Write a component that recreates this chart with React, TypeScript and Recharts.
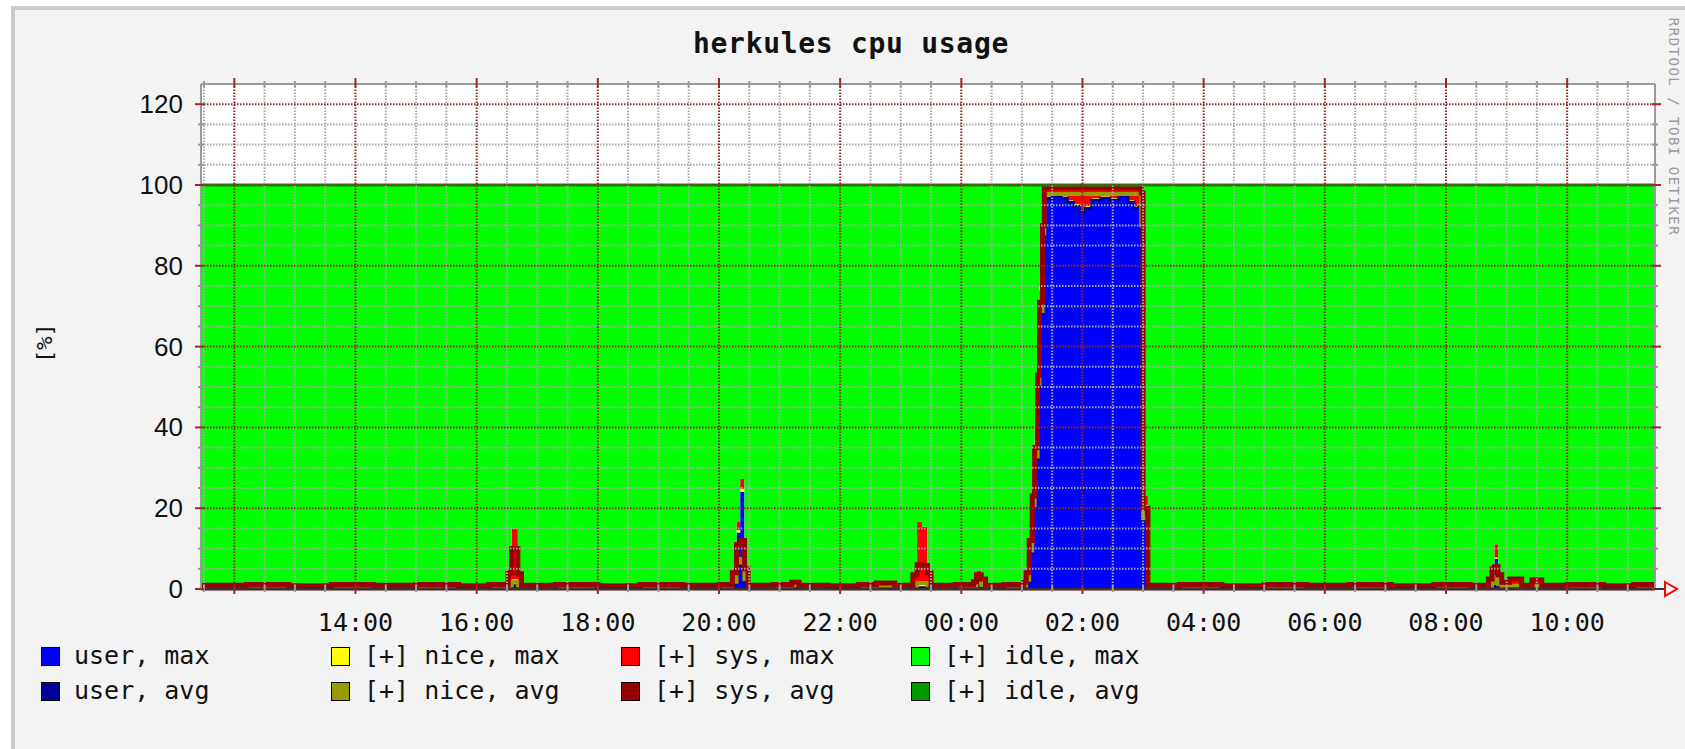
import React from "react";
import { ComposedChart, Area, XAxis, YAxis, CartesianGrid, ReferenceLine } from "recharts";

// hours since midnight of the first day (24h window, 11:27 -> 11:27)
const times = [
  11.45, 12.2, 12.9, 13.6, 14.3, 15.0, 15.7, 16.2, 16.52, 16.58, 16.68, 16.74,
  17.3, 18.0, 18.7, 19.4, 20.0, 20.22, 20.29, 20.35, 20.42, 20.48, 20.9, 21.2,
  21.32, 21.8, 22.3, 22.6, 22.9, 23.2, 23.27, 23.35, 23.44, 23.5, 23.9, 24.2,
  24.25, 24.33, 24.4, 24.7, 25.0, 25.03, 25.07, 25.12, 25.17, 25.21, 25.26, 25.29,
  25.34, 25.37, 25.5, 25.65, 25.75, 25.85, 25.95, 26.05, 26.15, 26.3, 26.45, 26.6,
  26.75, 26.85, 26.92, 26.97, 27.0, 27.08, 27.6, 28.3, 29.0, 29.7, 30.4, 31.1,
  31.8, 32.4, 32.7, 32.76, 32.8, 32.86, 32.92, 33.05, 33.25, 33.42, 33.58, 34.0,
  34.6, 35.1, 35.45,
];

const userMax = [
  0.3, 0.3, 0.2, 0.3, 0.3, 0.3, 0.2, 0.3, 0.8, 1.0, 0.6, 0.3,
  0.3, 0.2, 0.3, 0.3, 0.3, 2.0, 14.0, 24.0, 2.5, 0.3, 0.3, 0.4,
  0.3, 0.2, 0.3, 0.3, 0.3, 0.3, 0.5, 0.5, 0.4, 0.3, 0.3, 0.6,
  3.0, 1.2, 0.3, 0.3, 0.3, 1.0, 3.0, 12.0, 24.0, 36.0, 56.0, 74.0,
  91.0, 97.0, 97.5, 97.0, 96.0, 95.0, 93.5, 94.5, 96.5, 97.0, 96.5, 97.5,
  96.0, 94.5, 95.0, 92.0, 20.0, 0.3, 0.3, 0.2, 0.3, 0.3, 0.3, 0.2,
  0.3, 0.3, 0.5, 1.5, 7.5, 1.0, 0.4, 0.3, 0.3, 0.3, 0.3, 0.3,
  0.2, 0.3, 0.3,
];
const niceMax = [
  0, 0, 0, 0, 0, 0, 0, 0, 0.5, 1.5, 0.4, 0,
  0, 0, 0, 0, 0, 0.5, 0.6, 0.8, 0.5, 0, 0, 0.8,
  0, 0, 0, 0.6, 0, 0.5, 1.5, 1.5, 0.8, 0, 0, 0,
  0.2, 0.2, 0, 0, 0, 0.3, 0.5, 0.8, 1.0, 1.0, 1.0, 1.0,
  1.0, 0.5, 0.5, 0.5, 0.3, 0.3, 0.3, 0.3, 0.3, 0.3, 0.3, 0.5,
  0.3, 0.3, 0.3, 0.5, 0.8, 0, 0, 0, 0, 0, 0, 0,
  0, 0, 0.3, 0.5, 0.3, 0.5, 0.3, 0.8, 0, 0.6, 0, 0,
  0, 0, 0,
];
const sysMax = [
  1.1, 1.3, 1.0, 1.3, 1.1, 1.3, 1.0, 1.3, 3.4, 12.5, 3.5, 1.1,
  1.3, 1.0, 1.3, 1.1, 1.3, 2.5, 2.0, 2.5, 2.0, 1.1, 1.3, 1.0,
  1.1, 1.0, 1.3, 1.1, 1.1, 3.2, 14.6, 13.4, 3.3, 1.1, 1.3, 1.4,
  1.3, 1.6, 1.1, 1.3, 1.1, 1.2, 2.0, 3.2, 3.0, 3.0, 3.0, 3.0,
  3.0, 2.5, 2.0, 2.5, 3.7, 4.7, 6.2, 5.2, 3.2, 2.7, 3.2, 2.0,
  3.7, 5.2, 4.7, 7.5, 2.2, 1.1, 1.3, 1.0, 1.3, 1.1, 1.3, 1.0,
  1.3, 1.1, 2.2, 3.5, 3.3, 2.5, 1.3, 1.9, 1.1, 1.8, 1.1, 1.3,
  1.0, 1.3, 1.1,
];
const idleMax = [
  98.6, 98.4, 98.8, 98.4, 98.6, 98.4, 98.8, 98.4, 95.3, 85.0, 95.5, 98.6,
  98.4, 98.8, 98.4, 98.6, 98.4, 95.0, 83.4, 72.7, 95.0, 98.6, 98.4, 97.8,
  98.6, 98.8, 98.4, 98.0, 98.6, 96.0, 83.4, 84.6, 95.5, 98.6, 98.4, 98.0,
  95.5, 97.0, 98.6, 98.4, 98.6, 97.5, 94.5, 84.0, 72.0, 60.0, 40.0, 22.0,
  5.0, 0, 0, 0, 0, 0, 0, 0, 0, 0, 0, 0,
  0, 0, 0, 0, 77.0, 98.6, 98.4, 98.8, 98.4, 98.6, 98.4, 98.8,
  98.4, 98.6, 97.0, 94.5, 88.9, 96.0, 98.0, 97.0, 98.6, 97.3, 98.6, 98.4,
  98.8, 98.4, 98.6,
];

const userAvg = [
  0.2, 0.2, 0.2, 0.2, 0.2, 0.2, 0.2, 0.2, 0.5, 0.8, 0.5, 0.2,
  0.2, 0.2, 0.2, 0.2, 0.2, 1.5, 6.0, 7.0, 2.0, 0.2, 0.2, 0.3,
  0.2, 0.2, 0.2, 0.2, 0.2, 0.2, 0.3, 0.3, 0.3, 0.2, 0.2, 0.4,
  1.5, 0.8, 0.2, 0.2, 0.2, 0.5, 2.0, 9.0, 20.0, 32.0, 50.0, 68.0,
  87.0, 96.7, 97.2, 96.7, 95.7, 94.7, 93.2, 94.2, 96.2, 96.7, 96.2, 97.2,
  95.7, 94.2, 94.7, 88.0, 17.0, 0.2, 0.2, 0.2, 0.2, 0.2, 0.2, 0.2,
  0.2, 0.2, 0.4, 1.0, 2.5, 0.8, 0.3, 0.2, 0.2, 0.2, 0.2, 0.2,
  0.2, 0.2, 0.2,
];
const niceAvg = [
  0, 0, 0, 0, 0, 0, 0, 0, 0.3, 1.0, 0.3, 0,
  0, 0, 0, 0, 0, 0.3, 0.5, 0.5, 0.4, 0, 0, 0.5,
  0, 0, 0, 0.4, 0, 0.4, 1.2, 1.2, 0.6, 0, 0, 0,
  0.2, 0.2, 0, 0, 0, 0.2, 0.3, 0.5, 0.8, 0.8, 0.8, 0.8,
  1.0, 1.1, 0.6, 1.1, 2.1, 3.1, 4.6, 3.6, 1.6, 1.1, 1.6, 0.6,
  2.1, 3.6, 3.1, 2.0, 0.5, 0, 0, 0, 0, 0, 0, 0,
  0, 0, 0.2, 0.5, 0.5, 0.4, 0.2, 0.6, 0, 0.5, 0, 0,
  0, 0, 0,
];
const sysAvg = [
  0.7, 0.9, 0.6, 0.9, 0.7, 0.9, 0.6, 0.9, 3.2, 8.2, 3.0, 0.7,
  0.9, 0.6, 0.9, 0.7, 0.9, 2.2, 4.5, 4.5, 2.6, 0.7, 0.9, 0.9,
  0.7, 0.6, 0.9, 0.9, 0.7, 2.9, 4.5, 4.3, 3.1, 0.7, 0.9, 1.4,
  1.8, 1.5, 0.7, 0.9, 0.7, 1.0, 1.7, 2.5, 2.2, 2.2, 2.2, 2.2,
  2.0, 1.5, 1.5, 1.5, 1.5, 1.5, 1.5, 1.5, 1.5, 1.5, 1.5, 1.5,
  1.5, 1.5, 1.5, 8.0, 2.5, 0.7, 0.9, 0.6, 0.9, 0.7, 0.9, 0.6,
  0.9, 0.7, 1.9, 3.5, 2.5, 2.3, 1.2, 1.7, 0.7, 1.5, 0.7, 0.9,
  0.6, 0.9, 0.7,
];
const idleAvg = [
  99.1, 98.9, 99.2, 98.9, 99.1, 98.9, 99.2, 98.9, 96.0, 90.0, 96.2, 99.1,
  98.9, 99.2, 98.9, 99.1, 98.9, 96.0, 89.0, 88.0, 95.0, 99.1, 98.9, 98.3,
  99.1, 99.2, 98.9, 98.5, 99.1, 96.5, 94.0, 94.2, 96.0, 99.1, 98.9, 98.2,
  96.5, 97.5, 99.1, 98.9, 99.1, 98.3, 96.0, 88.0, 77.0, 65.0, 47.0, 29.0,
  10.0, 0.7, 0.7, 0.7, 0.7, 0.7, 0.7, 0.7, 0.7, 0.7, 0.7, 0.7,
  0.7, 0.7, 0.7, 2.0, 80.0, 99.1, 98.9, 99.2, 98.9, 99.1, 98.9, 99.2,
  98.9, 99.1, 97.5, 95.0, 94.5, 96.5, 98.3, 97.5, 99.1, 97.8, 99.1, 98.9,
  99.2, 98.9, 99.1,
];

const xMajorTicks = [12, 14, 16, 18, 20, 22, 24, 26, 28, 30, 32, 34];
const xLabels = ["", "14:00", "16:00", "18:00", "20:00", "22:00", "00:00", "02:00", "04:00", "06:00", "08:00", "10:00"];
const yMajorTicks = [0, 20, 40, 60, 80, 100, 120];
const yLabels = ["0", "20", "40", "60", "80", "100", "120"];

const legendNames = [
  "user, max", "[+] nice, max", "[+] sys, max", "[+] idle, max",
  "user, avg", "[+] nice, avg", "[+] sys, avg", "[+] idle, avg",
];
const legendColors = [
  "#0000ff", "#ffff00", "#ff0000", "#00ff00",
  "#000099", "#999900", "#990000", "#009900",
];

// 30 minute and 5 % minor grid steps
const xMinorTicks = Array.from({ length: 48 }, (_, i) => 11.5 + i * 0.5);
const yMinorTicks = Array.from({ length: 25 }, (_, i) => i * 5);
const xGridMinor = xMinorTicks.filter((v) => !xMajorTicks.includes(v));
const yGridMinor = yMinorTicks.filter((v) => v > 0 && v % 20 !== 0);
const yGridMajor = yMajorTicks.filter((v) => v > 0);

const data = times.map((t, i) => ({
  t,
  userMax: userMax[i],
  niceMax: niceMax[i],
  sysMax: sysMax[i],
  idleMax: idleMax[i],
  userAvg: userAvg[i],
  niceAvg: niceAvg[i],
  sysAvg: sysAvg[i],
  idleAvg: idleAvg[i],
}));

const GRID_GRAY = "#a8a8a8";
const GRID_RED = "#8e2a2a";
const TICK_GRAY = "#9a9a9a";
const TICK_RED = "#a02828";
const MONO = "'DejaVu Sans Mono', monospace";

const bottomTick = (props: any) => {
  const { x, y, payload } = props;
  const idx = xMajorTicks.indexOf(payload.value);
  const major = idx >= 0;
  return (
    <g>
      <line x1={x} x2={x} y1={y - 3} y2={y + (major ? 5 : 3)} stroke={major ? TICK_RED : TICK_GRAY} strokeWidth={2} />
      {major && xLabels[idx] ? (
        <text x={x} y={y + 33} textAnchor="middle" dominantBaseline="central" fontFamily={MONO} fontSize={25} fill="#111">
          {xLabels[idx]}
        </text>
      ) : null}
    </g>
  );
};

const topTick = (props: any) => {
  const { x, y, payload } = props;
  const major = xMajorTicks.includes(payload.value);
  return <line x1={x} x2={x} y1={y - (major ? 6 : 3)} y2={y + 3} stroke={major ? TICK_RED : TICK_GRAY} strokeWidth={2} />;
};

const leftTick = (props: any) => {
  const { x, y, payload } = props;
  const idx = yMajorTicks.indexOf(payload.value);
  const major = idx >= 0;
  return (
    <g>
      <line x1={x - (major ? 6 : 3)} x2={x + 3} y1={y} y2={y} stroke={major ? TICK_RED : TICK_GRAY} strokeWidth={2} />
      {major ? (
        <text x={x - 18} y={y} textAnchor="end" dominantBaseline="central" fontFamily="'Liberation Sans', Arial, sans-serif" fontSize={26} fill="#111">
          {yLabels[idx]}
        </text>
      ) : null}
    </g>
  );
};

const rightTick = (props: any) => {
  const { x, y, payload } = props;
  const major = yMajorTicks.includes(payload.value);
  return <line x1={x - 3} x2={x + (major ? 6 : 3)} y1={y} y2={y} stroke={major ? TICK_RED : TICK_GRAY} strokeWidth={2} />;
};

export default function App() {
  return (
    <div style={{ position: "absolute", left: 0, top: 0, width: 1685, height: 749, background: "#ffffff", overflow: "hidden" }}>
      <div
        style={{
          position: "absolute",
          left: 11,
          top: 6,
          width: 1700,
          height: 760,
          background: "#f3f3f3",
          borderLeft: "4px solid #cbcbcb",
          borderTop: "4px solid #cbcbcb",
        }}
      />
      <div style={{ position: "absolute", left: 0, top: 0 }}>
        <ComposedChart width={1685} height={749} data={data} margin={{ top: 83, right: 29, bottom: 159, left: 200 }}>
          <CartesianGrid xAxisId="bottom" yAxisId="left" horizontal={false} vertical={false} fill="#ffffff" />
          <XAxis
            xAxisId="bottom"
            dataKey="t"
            type="number"
            domain={[11.45, 35.45]}
            allowDataOverflow
            ticks={xMinorTicks}
            interval={0}
            height={1}
            tickSize={0}
            tickMargin={0}
            tickLine={false}
            tick={bottomTick}
            axisLine={{ stroke: "#333333", strokeWidth: 2 }}
          />
          <XAxis
            xAxisId="top"
            orientation="top"
            dataKey="t"
            type="number"
            domain={[11.45, 35.45]}
            allowDataOverflow
            ticks={xMinorTicks}
            interval={0}
            height={1}
            tickSize={0}
            tickMargin={0}
            tickLine={false}
            tick={topTick}
            axisLine={{ stroke: "#9a9a9a", strokeWidth: 2 }}
          />
          <YAxis
            yAxisId="left"
            type="number"
            domain={[0, 125]}
            allowDataOverflow
            ticks={yMinorTicks}
            interval={0}
            width={1}
            tickSize={0}
            tickMargin={0}
            tickLine={false}
            tick={leftTick}
            axisLine={{ stroke: "#9a9a9a", strokeWidth: 2 }}
          />
          <YAxis
            yAxisId="right"
            orientation="right"
            type="number"
            domain={[0, 125]}
            allowDataOverflow
            ticks={yMinorTicks}
            interval={0}
            width={1}
            tickSize={0}
            tickMargin={0}
            tickLine={false}
            tick={rightTick}
            axisLine={{ stroke: "#9a9a9a", strokeWidth: 2 }}
          />

          <Area xAxisId="bottom" yAxisId="left" stackId="max" dataKey="userMax" type="stepAfter" fill="#0000ff" fillOpacity={1} stroke="none" isAnimationActive={false} />
          <Area xAxisId="bottom" yAxisId="left" stackId="max" dataKey="niceMax" type="stepAfter" fill="#ffff00" fillOpacity={1} stroke="none" isAnimationActive={false} />
          <Area xAxisId="bottom" yAxisId="left" stackId="max" dataKey="sysMax" type="stepAfter" fill="#ff0000" fillOpacity={1} stroke="none" isAnimationActive={false} />
          <Area xAxisId="bottom" yAxisId="left" stackId="max" dataKey="idleMax" type="stepAfter" fill="#00ff00" fillOpacity={1} stroke="none" isAnimationActive={false} />

          <Area xAxisId="top" yAxisId="right" stackId="avg" dataKey="userAvg" type="stepAfter" fill="none" stroke="#000099" strokeWidth={3} isAnimationActive={false} />
          <Area xAxisId="top" yAxisId="right" stackId="avg" dataKey="niceAvg" type="stepAfter" fill="none" stroke="#999900" strokeWidth={4} isAnimationActive={false} />
          <Area xAxisId="top" yAxisId="right" stackId="avg" dataKey="sysAvg" type="stepAfter" fill="none" stroke="#990000" strokeWidth={5} isAnimationActive={false} />
          <Area xAxisId="top" yAxisId="right" stackId="avg" dataKey="idleAvg" type="stepAfter" fill="none" stroke="#009900" strokeWidth={3} isAnimationActive={false} />

          {xGridMinor.map((v) => (
            <ReferenceLine key={"xm" + v} xAxisId="bottom" yAxisId="left" x={v} stroke={GRID_GRAY} strokeWidth={2} strokeDasharray="1.5 1.5" />
          ))}
          {yGridMinor.map((v) => (
            <ReferenceLine key={"ym" + v} xAxisId="bottom" yAxisId="left" y={v} stroke={GRID_GRAY} strokeWidth={2} strokeDasharray="1.5 1.5" />
          ))}
          {xMajorTicks.map((v) => (
            <ReferenceLine key={"xM" + v} xAxisId="bottom" yAxisId="left" x={v} stroke={GRID_RED} strokeWidth={2} strokeDasharray="1.5 1.5" />
          ))}
          {yGridMajor.map((v) => (
            <ReferenceLine key={"yM" + v} xAxisId="bottom" yAxisId="left" y={v} stroke={GRID_RED} strokeWidth={2} strokeDasharray="1.5 1.5" />
          ))}
          {/* x axis line on top of the data, like rrdtool */}
          <ReferenceLine xAxisId="bottom" yAxisId="left" y={0} stroke="#5a0a0a" strokeWidth={3} />
        </ComposedChart>
      </div>

      <svg width={1685} height={749} style={{ position: "absolute", left: 0, top: 0, pointerEvents: "none" }}>
        <text x={851} y={53} textAnchor="middle" fontFamily={MONO} fontWeight="bold" fontSize={28} letterSpacing={0.7} fill="#111">
          herkules cpu usage
        </text>
        <text x={44} y={343} transform="rotate(-90 44 343)" textAnchor="middle" dominantBaseline="central" fontFamily={MONO} fontSize={22} fill="#111">
          [%]
        </text>
        <text x={1674} y={127} transform="rotate(90 1674 127)" textAnchor="middle" dominantBaseline="central" fontFamily={MONO} fontSize={14} letterSpacing={1.5} fill="#9a9a9a">
          RRDTOOL / TOBI OETIKER
        </text>
        <line x1={1655} x2={1665} y1={589} y2={589} stroke="#333333" strokeWidth={2} />
        <polygon points="1665,582 1677,589 1665,596" fill="none" stroke="#ff0000" strokeWidth={2} />
      </svg>

      {legendNames.map((name, i) => {
        const col = i % 4;
        const row = Math.floor(i / 4);
        const left = 41 + col * 290;
        const cy = 656 + row * 35;
        return (
          <div key={name} style={{ position: "absolute", left, top: cy - 10, height: 20, display: "flex", alignItems: "center" }}>
            <div style={{ width: 17, height: 17, background: legendColors[i], border: "1.5px solid #000" }} />
            <span style={{ marginLeft: 14, fontFamily: MONO, fontSize: 25, color: "#111", whiteSpace: "pre", lineHeight: "20px" }}>{name}</span>
          </div>
        );
      })}
    </div>
  );
}
